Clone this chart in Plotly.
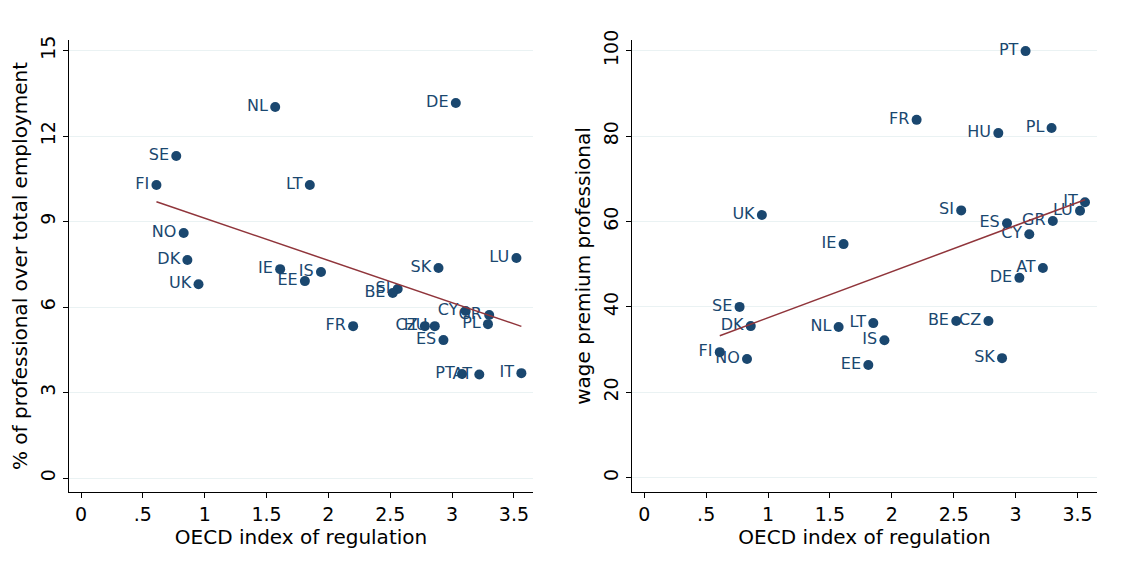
import numpy as np
import plotly.graph_objects as go
from plotly.subplots import make_subplots

countries = ["NL", "DE", "SE", "FI", "LT", "NO", "DK", "UK", "IE", "IS", "EE", "SK", "LU",
             "SI", "BE", "CY", "GR", "PL", "FR", "CZ", "HU", "ES", "PT", "AT", "IT"]
oecd_index = [1.57, 3.03, 0.77, 0.61, 1.85, 0.83, 0.86, 0.95, 1.61, 1.94, 1.81, 2.89, 3.52,
              2.56, 2.52, 3.11, 3.30, 3.29, 2.20, 2.78, 2.86, 2.93, 3.08, 3.22, 3.56]
share_professional = [13.02, 13.16, 11.3, 10.28, 10.28, 8.6, 7.65, 6.8, 7.33, 7.23, 6.91, 7.37, 7.72,
                      6.63, 6.49, 5.86, 5.72, 5.40, 5.33, 5.33, 5.33, 4.84, 3.65, 3.63, 3.68]
wage_premium = [35.3, 46.8, 40.0, 29.4, 36.2, 27.8, 35.5, 61.5, 54.7, 32.2, 26.4, 28.0, 62.5,
                62.6, 36.7, 57.0, 60.1, 81.9, 83.8, 36.7, 80.7, 59.6, 99.9, 49.1, 64.5]

x_ticks = [0, 0.5, 1, 1.5, 2, 2.5, 3, 3.5]
x_ticktext = ["0", ".5", "1", "1.5", "2", "2.5", "3", "3.5"]
y1_ticks = [0, 3, 6, 9, 12, 15]
y2_ticks = [0, 20, 40, 60, 80, 100]

NAVY = "#1a476f"
MAROON = "#90353b"
FONT = "DejaVu Sans"
W, H = 1121, 579
OFF = 8  # page body margin

fig = make_subplots(rows=1, cols=2)

def fit_line(x, y):
    b, a = np.polyfit(x, y, 1)
    xs = np.array([min(x), max(x)])
    return xs, a + b * xs

for col, yvals in [(1, share_professional), (2, wage_premium)]:
    fig.add_trace(go.Scatter(
        x=oecd_index, y=yvals, mode="markers+text", text=countries,
        textposition="middle left",
        textfont=dict(family=FONT, size=16, color=NAVY),
        marker=dict(color=NAVY, size=10),
        showlegend=False, cliponaxis=False), row=1, col=col)
    xs, ys = fit_line(oecd_index, yvals)
    fig.add_trace(go.Scatter(x=xs, y=ys, mode="lines",
                             line=dict(color=MAROON, width=1.5),
                             showlegend=False), row=1, col=col)

ax_common = dict(showline=True, linecolor="#000000", linewidth=1, ticks="outside",
                 ticklen=5, tickcolor="#000000", tickfont=dict(family=FONT, size=19, color="#000"),
                 zeroline=False, mirror=False, automargin=False)

fig.update_xaxes(**ax_common, tickvals=x_ticks, ticktext=x_ticktext, showgrid=False,
                 title=dict(text="OECD index of regulation", font=dict(family=FONT, size=20, color="#000"), standoff=0))
fig.update_xaxes(domain=[(69-OFF)/W, (533-OFF)/W], range=[-0.097, 3.654], row=1, col=1)
fig.update_xaxes(domain=[(632-OFF)/W, (1097-OFF)/W], range=[-0.099, 3.657], row=1, col=2)

fig.update_yaxes(**ax_common, showgrid=True, gridcolor="#eaf2f3", gridwidth=1, tickangle=-90,
                 domain=[(H-492+OFF)/H, (H-40+OFF)/H])
fig.update_yaxes(tickvals=y1_ticks, range=[-0.49, 15.37],
                 title=dict(text="% of professional over total employment",
                            font=dict(family=FONT, size=20, color="#000"), standoff=4), row=1, col=1)
fig.update_yaxes(tickvals=y2_ticks, range=[-3.35, 102.5],
                 title=dict(text="wage premium professional",
                            font=dict(family=FONT, size=20, color="#000"), standoff=4), row=1, col=2)

fig.update_layout(width=W, height=H, margin=dict(l=0, r=0, t=0, b=0),
                  plot_bgcolor="white", paper_bgcolor="white",
                  font=dict(family=FONT))

fig.write_html("out.html")
